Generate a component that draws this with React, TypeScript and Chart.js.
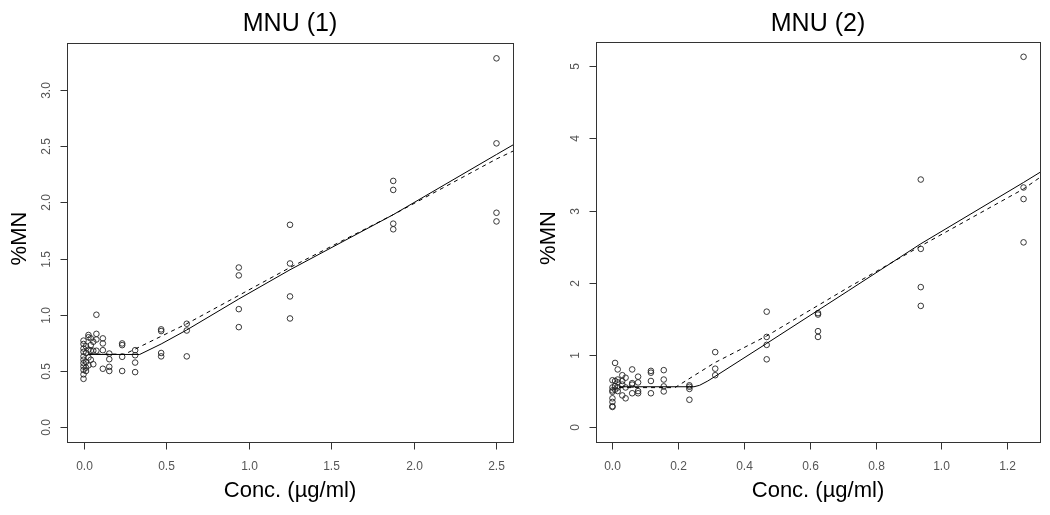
import React, { useEffect, useRef } from "react";
import { Chart, registerables } from "chart.js";

Chart.register(...registerables);

const FONT = '"Liberation Sans", Arial, sans-serif';

// ---------- Panel 1: MNU (1) ----------
const p1Title = "MNU (1)";
const p1Doses = [0, 0.015, 0.03, 0.044, 0.059, 0.078, 0.117, 0.156, 0.234, 0.3125, 0.47, 0.625, 0.94, 1.25, 1.875, 2.5];
const p1Values: number[][] = [
  [0.77, 0.74, 0.7, 0.67, 0.63, 0.6, 0.57, 0.54, 0.51, 0.47, 0.43],
  [0.72, 0.66, 0.58, 0.53, 0.5],
  [0.82, 0.8, 0.69, 0.62, 0.55],
  [0.79, 0.73, 0.68, 0.6],
  [0.76, 0.68, 0.56],
  [1.0, 0.83, 0.78, 0.68],
  [0.79, 0.745, 0.685, 0.52],
  [0.655, 0.605, 0.537, 0.5],
  [0.745, 0.73, 0.626, 0.5],
  [0.685, 0.64, 0.575, 0.49],
  [0.87, 0.855, 0.66, 0.63],
  [0.92, 0.86, 0.63],
  [1.42, 1.35, 1.05, 0.89],
  [1.8, 1.456, 1.163, 0.967],
  [2.19, 2.11, 1.81, 1.76],
  [3.28, 2.524, 1.907, 1.83],
];
const p1SolidX = [0.03, 0.34, 0.47, 0.625, 0.94, 1.25, 1.875, 2.5, 2.6];
const p1SolidY = [0.647, 0.647, 0.74, 0.865, 1.14, 1.4, 1.89, 2.425, 2.51];
const p1DashX = [0.03, 0.25, 0.625, 1.0, 1.25, 1.875, 2.5, 2.6];
const p1DashY = [0.65, 0.65, 0.92, 1.22, 1.42, 1.89, 2.385, 2.455];
const p1XTicks = [0, 0.5, 1.0, 1.5, 2.0, 2.5];
const p1XTickLabels = ["0.0", "0.5", "1.0", "1.5", "2.0", "2.5"];
const p1YTicks = [0, 0.5, 1.0, 1.5, 2.0, 2.5, 3.0];
const p1YTickLabels = ["0.0", "0.5", "1.0", "1.5", "2.0", "2.5", "3.0"];

// ---------- Panel 2: MNU (2) ----------
const p2Title = "MNU (2)";
const p2Doses = [0, 0.008, 0.016, 0.03, 0.04, 0.06, 0.078, 0.117, 0.156, 0.234, 0.3125, 0.469, 0.625, 0.9375, 1.25];
const p2Values: number[][] = [
  [0.65, 0.55, 0.51, 0.49, 0.4, 0.35, 0.29, 0.28],
  [0.89, 0.64, 0.57, 0.52],
  [0.8, 0.66, 0.62, 0.55, 0.5],
  [0.72, 0.64, 0.59, 0.44],
  [0.685, 0.55, 0.4],
  [0.8, 0.61, 0.59, 0.47],
  [0.7, 0.62, 0.5, 0.47],
  [0.78, 0.755, 0.64, 0.47],
  [0.79, 0.66, 0.565, 0.495],
  [0.58, 0.56, 0.53, 0.38],
  [1.04, 0.81, 0.72],
  [1.6, 1.25, 1.14, 0.94],
  [1.58, 1.56, 1.33, 1.25],
  [3.43, 2.47, 1.94, 1.68],
  [5.13, 3.32, 3.16, 2.56],
];
const p2SolidX = [0.02, 0.248, 0.265, 0.29, 0.311, 0.469, 0.717, 0.9375, 1.25, 1.3];
const p2SolidY = [0.56, 0.56, 0.58, 0.64, 0.7, 1.16, 1.889, 2.54, 3.39, 3.53];
const p2DashX = [0.02, 0.19, 0.311, 0.469, 0.717, 0.9375, 1.25, 1.3];
const p2DashY = [0.548, 0.548, 0.893, 1.264, 1.935, 2.51, 3.3, 3.46];
const p2XTicks = [0, 0.2, 0.4, 0.6, 0.8, 1.0, 1.2];
const p2XTickLabels = ["0.0", "0.2", "0.4", "0.6", "0.8", "1.0", "1.2"];
const p2YTicks = [0, 1, 2, 3, 4, 5];
const p2YTickLabels = ["0", "1", "2", "3", "4", "5"];

const xTitle = "Conc. (\u00b5g/ml)";
const yTitle = "%MN";

type PanelCfg = {
  title: string;
  doses: number[];
  values: number[][];
  solidX: number[];
  solidY: number[];
  dashX: number[];
  dashY: number[];
  xTicks: number[];
  xTickLabels: string[];
  yTicks: number[];
  yTickLabels: string[];
  xMin: number;
  xMax: number;
  yMin: number;
  yMax: number;
  padding: { left: number; right: number; top: number; bottom: number };
};

const frame = {
  id: "rframe",
  afterDraw(chart: any, _args: any, opts: any) {
    const ctx = chart.ctx as CanvasRenderingContext2D;
    const { left, right, top, bottom } = chart.chartArea;
    const xs = chart.scales.x;
    const ys = chart.scales.y;
    ctx.save();
    ctx.strokeStyle = "#333";
    ctx.lineWidth = 1;
    const L = Math.round(left) + 0.5;
    const R = Math.round(right) + 0.5;
    const T = Math.round(top) + 0.5;
    const B = Math.round(bottom) + 0.5;
    ctx.strokeRect(L, T, R - L, B - T);
    // x ticks
    ctx.fillStyle = "#555";
    ctx.font = `12px ${FONT}`;
    ctx.textAlign = "center";
    ctx.textBaseline = "middle";
    opts.xTicks.forEach((v: number, i: number) => {
      const px = Math.round(xs.getPixelForValue(v)) + 0.5;
      ctx.beginPath();
      ctx.moveTo(px, B);
      ctx.lineTo(px, B + 7);
      ctx.stroke();
      ctx.fillText(opts.xTickLabels[i], px, bottom + 25);
    });
    // y ticks
    opts.yTicks.forEach((v: number, i: number) => {
      const py = Math.round(ys.getPixelForValue(v)) + 0.5;
      ctx.beginPath();
      ctx.moveTo(L - 7, py);
      ctx.lineTo(L, py);
      ctx.stroke();
      ctx.save();
      ctx.translate(left - 20, py);
      ctx.rotate(-Math.PI / 2);
      ctx.fillText(opts.yTickLabels[i], 0, 0);
      ctx.restore();
    });
    // titles
    ctx.fillStyle = "#000";
    const cx = (left + right) / 2;
    ctx.font = `25px ${FONT}`;
    ctx.fillText(opts.title, cx, 24);
    ctx.font = `22px ${FONT}`;
    ctx.fillText(opts.xTitle, cx, bottom + 49);
    ctx.save();
    ctx.translate(left - 47, (top + bottom) / 2 - 4);
    ctx.rotate(-Math.PI / 2);
    ctx.font = `22px ${FONT}`;
    ctx.fillText(opts.yTitle, 0, 0);
    ctx.restore();
    ctx.restore();
  },
};

function Panel({ cfg }: { cfg: PanelCfg }) {
  const ref = useRef<HTMLCanvasElement | null>(null);
  useEffect(() => {
    if (!ref.current) return;
    const pts: { x: number; y: number }[] = [];
    cfg.doses.forEach((d, i) => cfg.values[i].forEach((v) => pts.push({ x: d, y: v })));
    const solid = cfg.solidX.map((x, i) => ({ x, y: cfg.solidY[i] }));
    const dash = cfg.dashX.map((x, i) => ({ x, y: cfg.dashY[i] }));
    const chart = new Chart(ref.current, {
      type: "scatter",
      data: {
        datasets: [
          {
            data: solid,
            showLine: true,
            borderColor: "#000",
            borderWidth: 1,
            pointRadius: 0,
            fill: false,
          },
          {
            data: dash,
            showLine: true,
            borderColor: "#000",
            borderWidth: 1,
            borderDash: [4, 4],
            pointRadius: 0,
            fill: false,
          },
          {
            data: pts,
            showLine: false,
            pointStyle: "circle",
            pointRadius: 2.8,
            borderWidth: 0.9,
            borderColor: "#222",
            backgroundColor: "rgba(0,0,0,0)",
          },
        ],
      } as any,
      options: {
        animation: false,
        responsive: false,
        events: [],
        layout: { padding: cfg.padding },
        plugins: {
          legend: { display: false },
          tooltip: { enabled: false },
          title: { display: false },
          rframe: {
            title: cfg.title,
            xTicks: cfg.xTicks,
            xTickLabels: cfg.xTickLabels,
            yTicks: cfg.yTicks,
            yTickLabels: cfg.yTickLabels,
            xTitle,
            yTitle,
          },
        } as any,
        scales: {
          x: { type: "linear", display: false, min: cfg.xMin, max: cfg.xMax },
          y: { type: "linear", display: false, min: cfg.yMin, max: cfg.yMax },
        },
      },
      plugins: [frame as any],
    });
    return () => chart.destroy();
  }, [cfg]);
  return <canvas ref={ref} width={525} height={515} style={{ display: "block", width: 525, height: 515 }} />;
}

const cfg1: PanelCfg = {
  title: p1Title,
  doses: p1Doses,
  values: p1Values,
  solidX: p1SolidX,
  solidY: p1SolidY,
  dashX: p1DashX,
  dashY: p1DashY,
  xTicks: p1XTicks,
  xTickLabels: p1XTickLabels,
  yTicks: p1YTicks,
  yTickLabels: p1YTickLabels,
  xMin: -0.1,
  xMax: 2.6,
  yMin: -0.1314,
  yMax: 3.4164,
  padding: { left: 67, right: 12, top: 43, bottom: 73 },
};

const cfg2: PanelCfg = {
  title: p2Title,
  doses: p2Doses,
  values: p2Values,
  solidX: p2SolidX,
  solidY: p2SolidY,
  dashX: p2DashX,
  dashY: p2DashY,
  xTicks: p2XTicks,
  xTickLabels: p2XTickLabels,
  yTicks: p2YTicks,
  yTickLabels: p2YTickLabels,
  xMin: -0.05,
  xMax: 1.3,
  yMin: -0.2052,
  yMax: 5.3352,
  padding: { left: 71, right: 10, top: 42, bottom: 73 },
};

export default function App() {
  return (
    <div
      style={{
        position: "absolute",
        left: 0,
        top: 0,
        width: 1050,
        height: 515,
        display: "flex",
        background: "#fff",
      }}
    >
      <Panel cfg={cfg1} />
      <Panel cfg={cfg2} />
    </div>
  );
}
